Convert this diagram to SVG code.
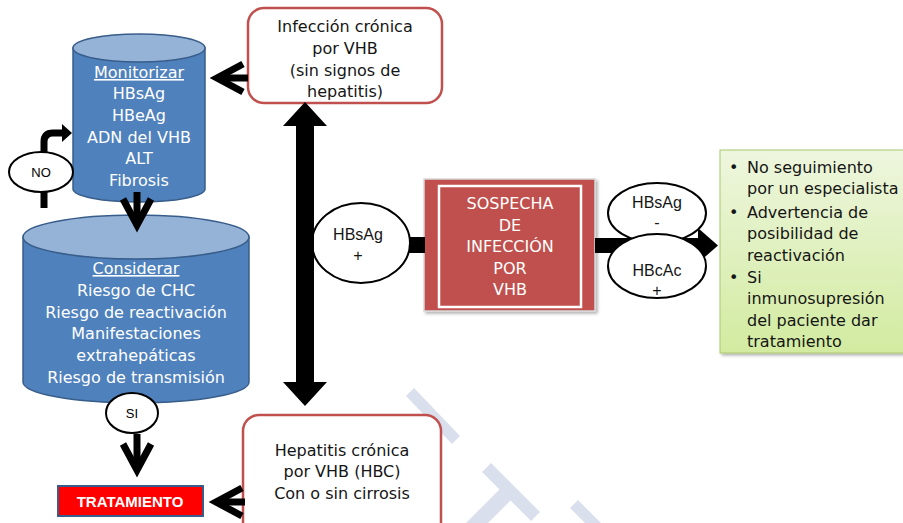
<svg xmlns="http://www.w3.org/2000/svg" width="903" height="523" viewBox="0 0 903 523">
  <defs>
    <style>
      .body { font-family: "DejaVu Sans", "Liberation Sans", sans-serif; font-size: 16px; text-anchor: middle; fill: #151515; }
      .light { fill: #ffffff; }
      .lbl { font-family: "Liberation Sans", Arial, sans-serif; font-size: 16px; text-anchor: middle; fill: #151515; }
      .small { font-family: "Liberation Sans", Arial, sans-serif; font-size: 13px; text-anchor: middle; fill: #000; }
      .list { font-family: "DejaVu Sans", "Liberation Sans", sans-serif; font-size: 16px; fill: #151515; }
      .cyl-body { fill: #4F81BD; stroke: #385D8A; stroke-width: 1.5; }
      .cyl-top { fill: #95B3D7; stroke: #385D8A; stroke-width: 1.5; }
      .redbox { fill: #ffffff; stroke: #C0504D; stroke-width: 2.5; }
      .bubble { fill: #ffffff; stroke: #000; stroke-width: 2; }
      .conn { fill: none; stroke: #000; stroke-width: 7; }
      .wm { fill: #D9DFEC; }
    </style>
    <marker id="chev" markerUnits="userSpaceOnUse" viewBox="-40 -30 60 60" markerWidth="60" markerHeight="60" refX="0" refY="0" orient="auto" overflow="visible">
      <path d="M-26,-14 L0,0 L-26,14" fill="none" stroke="#000" stroke-width="7" stroke-linejoin="miter"/>
    </marker>
    <linearGradient id="greenFill" x1="0" y1="0" x2="0" y2="1">
      <stop offset="0" stop-color="#EEF6DE"/>
      <stop offset="1" stop-color="#D2EBA0"/>
    </linearGradient>
    <filter id="shadow" x="-10%" y="-10%" width="130%" height="130%">
      <feDropShadow dx="2" dy="2" stdDeviation="1.5" flood-color="#000" flood-opacity="0.3"/>
    </filter>
  </defs>

  <rect width="903" height="523" fill="#ffffff"/>

  <!-- faint background logo -->
  <g id="logo">
    <polygon class="wm" points="414,388 460,436 452,444 406,396"/>
    <polygon class="wm" points="491,463 540,512 531,521 482,472"/>
    <polygon class="wm" points="517,494 488,523 466,523 505,484"/>
    <polygon class="wm" points="578,500 601,523 585,523 570,508"/>
  </g>

  <!-- Monitorizar -->
  <g id="monitorizar">
    <path class="cyl-body" d="M73,48 L73,189 A66,13 0 0 0 205,189 L205,48 Z"/>
    <ellipse class="cyl-top" cx="139" cy="48" rx="66" ry="14"/>
    <text class="body light" x="139" y="78" text-decoration="underline">Monitorizar</text>
    <text class="body light" x="139" y="99">HBsAg</text>
    <text class="body light" x="139" y="121">HBeAg</text>
    <text class="body light" x="139" y="143">ADN del VHB</text>
    <text class="body light" x="139" y="164">ALT</text>
    <text class="body light" x="139" y="186">Fibrosis</text>
  </g>

  <!-- Considerar -->
  <g id="considerar">
    <path class="cyl-body" d="M23,237 L23,382 A113,21 0 0 0 249,382 L249,237 Z"/>
    <ellipse class="cyl-top" cx="136" cy="237" rx="113" ry="22"/>
    <text class="body light" x="136" y="274" text-decoration="underline">Considerar</text>
    <text class="body light" x="136" y="296">Riesgo de CHC</text>
    <text class="body light" x="136" y="318">Riesgo de reactivación</text>
    <text class="body light" x="136" y="339">Manifestaciones</text>
    <text class="body light" x="136" y="361">extrahepáticas</text>
    <text class="body light" x="136" y="383">Riesgo de transmisión</text>
  </g>

  <!-- NO -->
  <g id="no">
    <ellipse class="bubble" cx="41" cy="172" rx="32" ry="20"/>
    <text class="small" x="41" y="177">NO</text>
  </g>

  <!-- SI -->
  <g id="si">
    <ellipse class="bubble" cx="132" cy="413" rx="26" ry="20"/>
    <text class="small" x="132" y="418">SI</text>
  </g>

  <!-- TRATAMIENTO -->
  <g id="tratamiento">
    <rect x="58" y="486" width="145" height="30" fill="#FF0000" stroke="#385D8A" stroke-width="2"/>
    <text x="130" y="507" font-family="Liberation Sans, Arial, sans-serif" font-size="15" font-weight="bold" fill="#ffffff" text-anchor="middle">TRATAMIENTO</text>
  </g>

  <!-- Infección crónica -->
  <g id="infeccion">
    <rect class="redbox" x="248" y="8" width="194" height="95" rx="16"/>
    <text class="body" x="345" y="32">Infección crónica</text>
    <text class="body" x="345" y="54">por VHB</text>
    <text class="body" x="345" y="76">(sin signos de</text>
    <text class="body" x="345" y="97">hepatitis)</text>
  </g>

  <!-- Hepatitis crónica -->
  <g id="hepatitis">
    <rect class="redbox" x="243" y="415" width="198" height="125" rx="16"/>
    <text class="body" x="342" y="456">Hepatitis crónica</text>
    <text class="body" x="342" y="477">por VHB (HBC)</text>
    <text class="body" x="342" y="499">Con o sin cirrosis</text>
  </g>

  <!-- HBsAg + -->
  <g id="hbsag-pos">
    <ellipse class="bubble" cx="361" cy="243" rx="49" ry="40"/>
    <text class="lbl" x="358" y="240">HBsAg</text>
    <text class="lbl" x="358" y="261">+</text>
  </g>

  <!-- Sospecha de infección -->
  <g id="sospecha">
    <rect x="424" y="179" width="171" height="132" fill="#C0504D" stroke="#D9D9D9" stroke-width="1.5" filter="url(#shadow)"/>
    <rect x="439" y="186" width="142" height="121" fill="#C0504D" stroke="#ffffff" stroke-width="2.5"/>
    <text class="body light" x="510" y="209">SOSPECHA</text>
    <text class="body light" x="510" y="230.5">DE</text>
    <text class="body light" x="510" y="252">INFECCIÓN</text>
    <text class="body light" x="510" y="273.5">POR</text>
    <text class="body light" x="510" y="295">VHB</text>
  </g>

  <!-- connectors -->
  <g id="connectors">
    <!-- Infección crónica -> Monitorizar -->
    <path class="conn" d="M248,78 L217,78" marker-end="url(#chev)"/>
    <!-- Monitorizar -> Considerar -->
    <path class="conn" d="M137,192 L137,225" marker-end="url(#chev)"/>
    <!-- SI -> TRATAMIENTO -->
    <path class="conn" d="M137,434 L137,470" marker-end="url(#chev)"/>
    <!-- Hepatitis crónica -> TRATAMIENTO -->
    <path class="conn" d="M245,502 L216,502" marker-end="url(#chev)"/>
    <!-- NO loop back into Monitorizar -->
    <path class="conn" d="M44,192 L44,208"/>
    <path class="conn" d="M44,152 L44,142 Q44,133 53,133 L63,133"/>
    <polygon points="62,124 72,133 62,142" fill="#000"/>
    <!-- double arrow between the two clinical states -->
    <polygon points="305,102 327,126 314,126 314,382 327,382 305,406 283,382 296,382 296,126 283,126" fill="#000"/>
    <!-- HBsAg+ -> Sospecha -->
    <rect x="409" y="237" width="16" height="16" fill="#000"/>
    <!-- Sospecha -> recommendations -->
    <rect x="595" y="238" width="105" height="15" fill="#000"/>
    <polygon points="698,228 718,245.5 698,263" fill="#000"/>
  </g>

  <!-- HBsAg - -->
  <g id="hbsag-neg">
    <ellipse class="bubble" cx="657" cy="213" rx="49" ry="30"/>
    <text class="lbl" x="657" y="208">HBsAg</text>
    <text class="lbl" x="657" y="228">-</text>
  </g>

  <!-- HBcAc + -->
  <g id="hbcac-pos">
    <ellipse class="bubble" cx="657" cy="266" rx="49" ry="32"/>
    <text class="lbl" x="657" y="276">HBcAc</text>
    <text class="lbl" x="657" y="296">+</text>
  </g>

  <!-- Recommendations -->
  <g id="recomendaciones">
    <rect x="720" y="150" width="190" height="203" fill="url(#greenFill)" stroke="#A9C76F" stroke-width="1" filter="url(#shadow)"/>
    <g class="list">
      <text x="729" y="173">•</text>
      <text x="747" y="173">No seguimiento</text>
      <text x="747" y="194">por un especialista</text>
      <text x="729" y="218">•</text>
      <text x="747" y="218">Advertencia de</text>
      <text x="747" y="239">posibilidad de</text>
      <text x="747" y="261">reactivación</text>
      <text x="729" y="283">•</text>
      <text x="747" y="283">Si</text>
      <text x="747" y="304">inmunosupresión</text>
      <text x="747" y="326">del paciente dar</text>
      <text x="747" y="347">tratamiento</text>
    </g>
  </g>
</svg>
